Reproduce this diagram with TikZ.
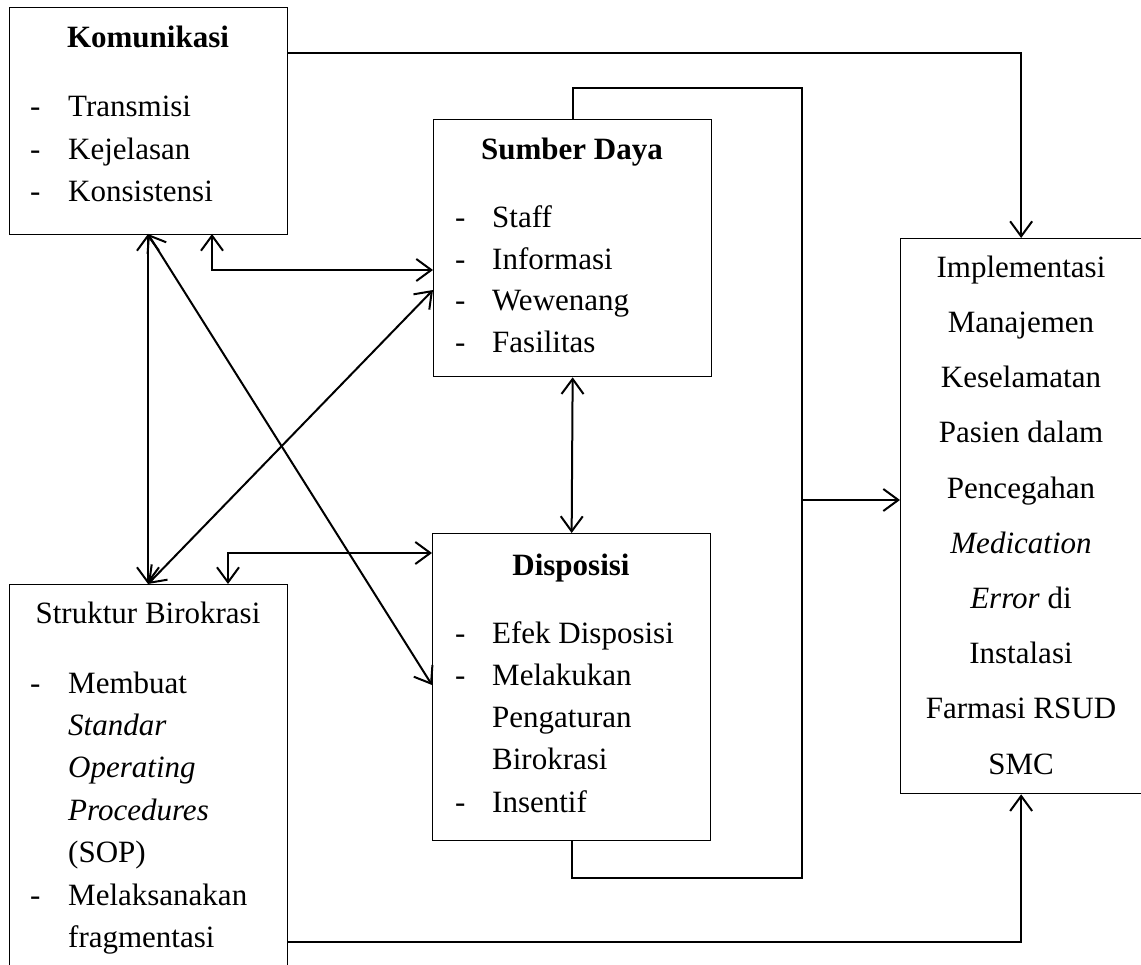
\documentclass[tikz,border=0pt]{standalone}
\usepackage{fontspec}
\setmainfont{Liberation Serif}
\usetikzlibrary{arrows.meta}
\begin{document}
\begin{tikzpicture}[x=1pt,y=-1pt,
  box/.style={draw,line width=1.3pt,anchor=north west,inner sep=0pt},
  conn/.style={line width=2pt},
  >={Straight Barb[length=15pt,width=22pt,line width=2pt]},
  txt/.style={anchor=base west,inner sep=0pt,font=\fontsize{31}{37}\selectfont},
  ctr/.style={anchor=base,inner sep=0pt,font=\fontsize{31}{37}\selectfont},
  ttl/.style={anchor=base,inner sep=0pt,font=\fontsize{31}{37}\selectfont\bfseries}]
\useasboundingbox (0,0) rectangle (1141,965);
% boxes
\node[box,minimum width=278pt,minimum height=227pt] (kom) at (9,7) {};
\node[box,minimum width=278pt,minimum height=420pt] (str) at (9,584) {};
\node[box,minimum width=278pt,minimum height=257pt] (sd) at (433,119) {};
\node[box,minimum width=278pt,minimum height=307pt] (dis) at (432,533) {};
\node[box,minimum width=241pt,minimum height=555pt] (imp) at (900,238) {};
% Komunikasi text
\node[ttl] (komt) at (148,48) {Komunikasi};
\node[txt] (kd1) at (30,117) {-}; \node[txt] (k1) at (68,117) {Transmisi};
\node[txt] (kd2) at (30,160) {-}; \node[txt] (k2) at (68,160) {Kejelasan};
\node[txt] (kd3) at (30,202) {-}; \node[txt] (k3) at (68,202) {Konsistensi};
% Sumber Daya text
\node[ttl] (sdt) at (572,160) {Sumber Daya};
\node[txt] (sdd1) at (455,228) {-}; \node[txt] (s1) at (492,228) {Staff};
\node[txt] (sdd2) at (455,270) {-}; \node[txt] (s2) at (492,270) {Informasi};
\node[txt] (sdd3) at (455,311) {-}; \node[txt] (s3) at (492,311) {Wewenang};
\node[txt] (sdd4) at (455,353) {-}; \node[txt] (s4) at (492,353) {Fasilitas};
% Disposisi text
\node[ttl] (dist) at (571,575) {Disposisi};
\node[txt] (dd1) at (455,643) {-}; \node[txt] (d1) at (492,643) {Efek Disposisi};
\node[txt] (dd2) at (455,685) {-}; \node[txt] (d2) at (492,685) {Melakukan};
\node[txt] (d3) at (492,727) {Pengaturan};
\node[txt] (d4) at (492,769) {Birokrasi};
\node[txt] (dd5) at (455,812) {-}; \node[txt] (d5) at (492,812) {Insentif};
% Struktur text
\node[ctr] (strt) at (148,623) {Struktur Birokrasi};
\node[txt] (td1) at (30,693) {-}; \node[txt] (t1) at (68,693) {Membuat};
\node[txt] (t2) at (68,735) {\itshape Standar};
\node[txt] (t3) at (68,777) {\itshape Operating};
\node[txt] (t4) at (68,820) {\itshape Procedures};
\node[txt] (t5) at (68,862) {(SOP)};
\node[txt] (td6) at (30,905) {-}; \node[txt] (t6) at (68,905) {Melaksanakan};
\node[txt] (t7) at (68,947) {fragmentasi};
% Implementasi text
\node[ctr] (i1) at (1021,278) {Implementasi};
\node[ctr] (i2) at (1021,333) {Manajemen};
\node[ctr] (i3) at (1021,388) {Keselamatan};
\node[ctr] (i4) at (1021,443) {Pasien dalam};
\node[ctr] (i5) at (1021,498) {Pencegahan};
\node[ctr] (i6) at (1021,553) {\itshape Medication};
\node[ctr] (i7) at (1021,608) {\textit{Error} di};
\node[ctr] (i8) at (1021,663) {Instalasi};
\node[ctr] (i9) at (1021,718) {Farmasi RSUD};
\node[ctr] (i10) at (1021,774) {SMC};
% helper coordinates
\coordinate (kR) at (287,53);
\coordinate (sR) at (287,942);
\coordinate (loopTop) at (802,88);
\coordinate (loopBot) at (802,878);
\coordinate (loopOut) at (802,500);
\coordinate (kB2) at (212,234);
\coordinate (sdL1) at (433,270);
\coordinate (sdL2) at (433,290);
\coordinate (kB1) at (148,234);
\coordinate (sT1) at (148,584);
\coordinate (dL1) at (432,685);
\coordinate (sT2) at (228,584);
\coordinate (dL2) at (432,553);
% connectors
\draw[conn,->] (kR) -| (imp.north);
\draw[conn,->] (sR) -| (imp.south);
\draw[conn] (sd.north) |- (loopTop) -- (loopBot) -| (dis.south);
\draw[conn,->] (loopOut) -- (imp.west |- loopOut);
\draw[conn,<->] (kB2) |- (sdL1);
\draw[conn,<->] (kB1) -- (sT1);
\draw[conn,<->] (kB1) -- (dL1);
\draw[conn,<->] (sT1) -- (sdL2);
\draw[conn,<->] (sT2) |- (dL2);
\draw[conn,<->] (sd.south) -- (dis.north);
\end{tikzpicture}
\end{document}
